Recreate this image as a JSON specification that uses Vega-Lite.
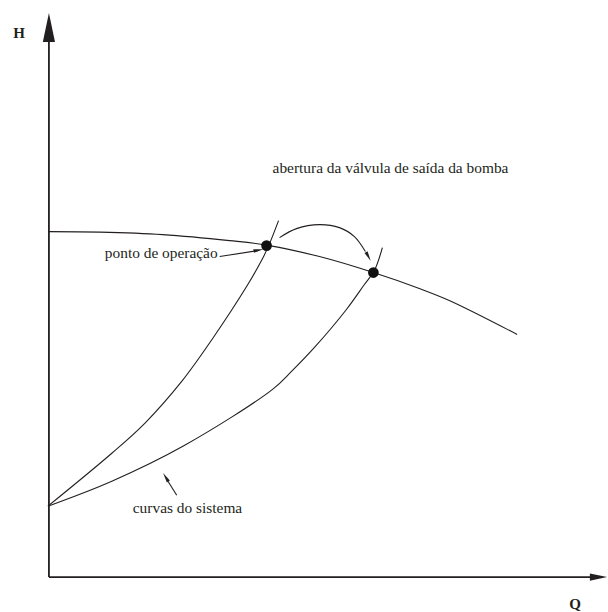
{
  "$schema": "https://vega.github.io/schema/vega-lite/v6.json",
  "width": 608,
  "height": 612,
  "padding": 0,
  "autosize": {"type": "fit", "contains": "padding"},
  "background": "white",
  "config": {"view": {"stroke": null}},
  "datasets": {
    "curves": [
      {"series": "bomba", "ord": 1, "Q": 49, "H": 380},
      {"series": "bomba", "ord": 2, "Q": 100, "H": 379.5},
      {"series": "bomba", "ord": 3, "Q": 163, "H": 377},
      {"series": "bomba", "ord": 4, "Q": 230, "H": 371},
      {"series": "bomba", "ord": 5, "Q": 267, "H": 366.5},
      {"series": "bomba", "ord": 6, "Q": 320, "H": 355},
      {"series": "bomba", "ord": 7, "Q": 374, "H": 339},
      {"series": "bomba", "ord": 8, "Q": 420, "H": 323},
      {"series": "bomba", "ord": 9, "Q": 450, "H": 311},
      {"series": "bomba", "ord": 10, "Q": 518, "H": 277},
      {"series": "sistema1", "ord": 1, "Q": 48, "H": 105},
      {"series": "sistema1", "ord": 2, "Q": 112, "H": 158},
      {"series": "sistema1", "ord": 3, "Q": 145, "H": 188},
      {"series": "sistema1", "ord": 4, "Q": 182, "H": 230},
      {"series": "sistema1", "ord": 5, "Q": 213, "H": 273},
      {"series": "sistema1", "ord": 6, "Q": 247, "H": 325},
      {"series": "sistema1", "ord": 7, "Q": 263, "H": 353},
      {"series": "sistema1", "ord": 8, "Q": 270, "H": 368},
      {"series": "sistema1", "ord": 9, "Q": 279, "H": 391},
      {"series": "sistema2", "ord": 1, "Q": 48, "H": 105},
      {"series": "sistema2", "ord": 2, "Q": 112, "H": 130},
      {"series": "sistema2", "ord": 3, "Q": 185, "H": 166},
      {"series": "sistema2", "ord": 4, "Q": 273, "H": 222},
      {"series": "sistema2", "ord": 5, "Q": 292, "H": 240},
      {"series": "sistema2", "ord": 6, "Q": 315, "H": 264},
      {"series": "sistema2", "ord": 7, "Q": 347, "H": 302},
      {"series": "sistema2", "ord": 8, "Q": 365, "H": 327},
      {"series": "sistema2", "ord": 9, "Q": 375, "H": 341},
      {"series": "sistema2", "ord": 10, "Q": 383, "H": 364},
      {"series": "seta_curva", "ord": 1, "Q": 280, "H": 374},
      {"series": "seta_curva", "ord": 2, "Q": 297, "H": 383},
      {"series": "seta_curva", "ord": 3, "Q": 320, "H": 387},
      {"series": "seta_curva", "ord": 4, "Q": 340, "H": 384},
      {"series": "seta_curva", "ord": 5, "Q": 355, "H": 375},
      {"series": "seta_curva", "ord": 6, "Q": 366, "H": 360},
      {"series": "seta_ponto", "ord": 1, "Q": 220, "H": 355},
      {"series": "seta_ponto", "ord": 2, "Q": 258, "H": 361},
      {"series": "seta_curvas", "ord": 1, "Q": 177, "H": 116},
      {"series": "seta_curvas", "ord": 2, "Q": 167, "H": 132}
    ],
    "axes": [
      {"series": "eixoH", "ord": 1, "Q": 49, "H": 34},
      {"series": "eixoH", "ord": 2, "Q": 49, "H": 572},
      {"series": "eixoQ", "ord": 1, "Q": 49, "H": 34},
      {"series": "eixoQ", "ord": 2, "Q": 594, "H": 34}
    ],
    "points": [
      {"Q": 267, "H": 366},
      {"Q": 374, "H": 339}
    ],
    "heads": [
      {"kind": "seta_curva", "Q": 369, "H": 355, "angle": 152},
      {"kind": "seta_ponto", "Q": 259, "H": 361.5, "angle": 79},
      {"kind": "seta_curvas", "Q": 166, "H": 134, "angle": 328}
    ],
    "axisheads": [
      {"kind": "H", "Q": 49, "H": 584.5, "angle": 0},
      {"kind": "Q", "Q": 599.5, "H": 34, "angle": 90}
    ],
    "labels": [
      {"text": "abertura da válvula de saída da bomba", "Q": 273, "H": 444},
      {"text": "ponto de operação", "Q": 105, "H": 359},
      {"text": "curvas do sistema", "Q": 133, "H": 103}
    ],
    "axislabels": [
      {"text": "H", "Q": 19, "H": 579},
      {"text": "Q", "Q": 576, "H": 7}
    ]
  },
  "encoding": {
    "x": {"field": "Q", "type": "quantitative", "scale": {"domain": [0, 608], "nice": false, "zero": false}, "axis": null},
    "y": {"field": "H", "type": "quantitative", "scale": {"domain": [0, 612], "nice": false, "zero": false}, "axis": null}
  },
  "layer": [
    {
      "data": {"name": "axes"},
      "mark": {"type": "line", "color": "#231f20", "strokeWidth": 1.8},
      "encoding": {"detail": {"field": "series"}, "order": {"field": "ord"}}
    },
    {
      "data": {"name": "curves"},
      "mark": {"type": "line", "color": "#231f20", "strokeWidth": 1.1, "interpolate": "catmull-rom"},
      "encoding": {"detail": {"field": "series"}, "order": {"field": "ord"}}
    },
    {
      "data": {"name": "points"},
      "mark": {"type": "point", "shape": "circle", "filled": true, "color": "#111", "size": 115, "opacity": 1}
    },
    {
      "data": {"name": "heads"},
      "mark": {"type": "point", "shape": "M0,-1L0.35,1L-0.35,1Z", "filled": true, "color": "#231f20", "size": 100, "opacity": 1},
      "encoding": {"angle": {"field": "angle", "type": "quantitative", "scale": null}}
    },
    {
      "data": {"name": "axisheads"},
      "mark": {"type": "point", "shape": "M0,-1L0.42,1L-0.42,1Z", "filled": true, "color": "#231f20", "opacity": 1},
      "encoding": {
        "angle": {"field": "angle", "type": "quantitative", "scale": null},
        "size": {"condition": {"test": "datum.kind === 'H'", "value": 841}, "value": 300}
      }
    },
    {
      "data": {"name": "labels"},
      "mark": {"type": "text", "font": "Liberation Serif", "fontSize": 15.4, "align": "left", "baseline": "middle", "color": "#231f20"},
      "encoding": {"text": {"field": "text"}}
    },
    {
      "data": {"name": "axislabels"},
      "mark": {"type": "text", "font": "Liberation Serif", "fontSize": 15, "fontWeight": "bold", "align": "center", "baseline": "middle", "color": "#231f20"},
      "encoding": {"text": {"field": "text"}}
    }
  ]
}
